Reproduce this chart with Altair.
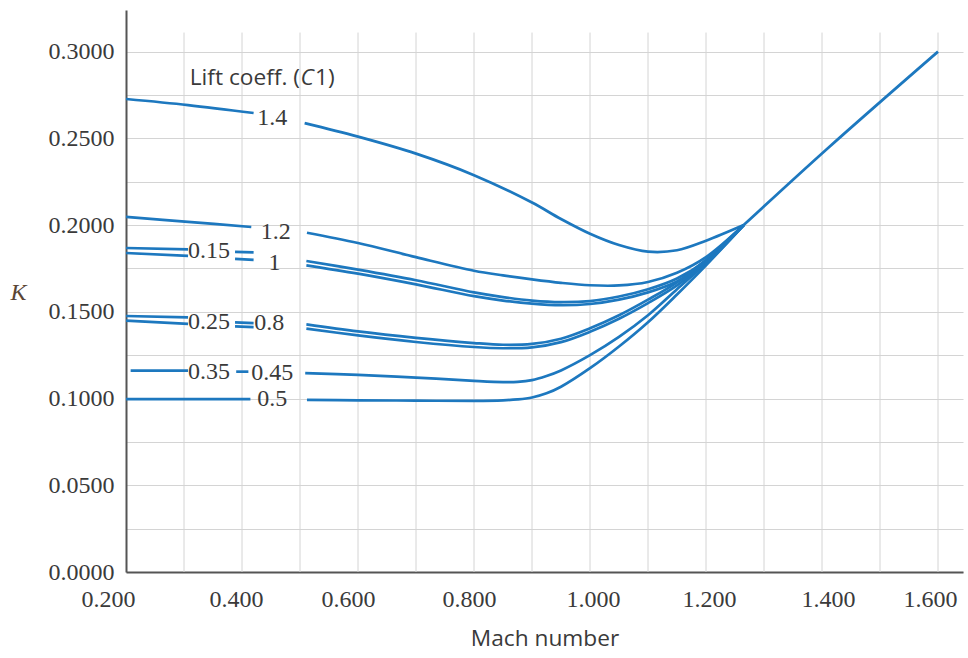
import altair as alt
import pandas as pd

BLUE = "#1d78bf"
TEXT = "#3a3a3a"

# ---- curve data (Mach number, K); "A" = left piece, "D" = short dash, "B" = right piece
C14_XA = [0.200, 0.307, 0.420]
C14_YA = [0.2727, 0.2692, 0.2646]
C14_XB = [0.508, 0.60, 0.70, 0.80, 0.90, 0.95, 1.00, 1.05, 1.10, 1.15, 1.20, 1.265]
C14_YB = [0.2588, 0.2510, 0.2412, 0.2288, 0.2130, 0.2035, 0.1950, 0.1885, 0.1847, 0.1855, 0.1910, 0.2000]

C12_XA = [0.200, 0.307, 0.416]
C12_YA = [0.2047, 0.2019, 0.1989]
C12_XB = [0.512, 0.60, 0.70, 0.80, 0.85, 0.90, 0.95, 1.00, 1.05, 1.10, 1.15, 1.20, 1.265]
C12_YB = [0.1956, 0.1897, 0.1815, 0.1737, 0.1710, 0.1687, 0.1667, 0.1653, 0.1652, 0.1672, 0.1725, 0.1815, 0.2000]

C10_XA = [0.200, 0.307]
C10_YA = [0.1868, 0.1860]
C10_XD = [0.388, 0.420]
C10_YD = [0.1845, 0.1843]
C10_XB = [0.511, 0.60, 0.70, 0.80, 0.85, 0.90, 0.95, 1.00, 1.05, 1.10, 1.15, 1.20, 1.265]
C10_YB = [0.1793, 0.1743, 0.1682, 0.1612, 0.1585, 0.1565, 0.1556, 0.1562, 0.1588, 0.1630, 0.1692, 0.1795, 0.2000]

C015_XA = [0.200, 0.307]
C015_YA = [0.1839, 0.1822]
C015_XD = [0.388, 0.420]
C015_YD = [0.1805, 0.1800]
C015_XB = [0.511, 0.60, 0.70, 0.80, 0.85, 0.90, 0.95, 1.00, 1.05, 1.10, 1.15, 1.20, 1.265]
C015_YB = [0.1768, 0.1720, 0.1658, 0.1590, 0.1565, 0.1547, 0.1538, 0.1545, 0.1570, 0.1612, 0.1675, 0.1782, 0.2000]

C08_XA = [0.200, 0.307]
C08_YA = [0.1476, 0.1468]
C08_XD = [0.388, 0.420]
C08_YD = [0.1439, 0.1435]
C08_XB = [0.511, 0.60, 0.70, 0.80, 0.85, 0.90, 0.95, 1.00, 1.05, 1.10, 1.15, 1.20, 1.265]
C08_YB = [0.1428, 0.1387, 0.1350, 0.1320, 0.1310, 0.1315, 0.1345, 0.1405, 0.1480, 0.1570, 0.1670, 0.1800, 0.2000]

C025_XA = [0.200, 0.307]
C025_YA = [0.1449, 0.1430]
C025_XD = [0.388, 0.420]
C025_YD = [0.1416, 0.1412]
C025_XB = [0.511, 0.60, 0.70, 0.80, 0.85, 0.90, 0.95, 1.00, 1.05, 1.10, 1.15, 1.20, 1.265]
C025_YB = [0.1403, 0.1364, 0.1326, 0.1297, 0.1290, 0.1295, 0.1325, 0.1385, 0.1460, 0.1550, 0.1652, 0.1785, 0.2000]

C045_XA = [0.208, 0.307]
C045_YA = [0.1161, 0.1161]
C045_XD = [0.390, 0.411]
C045_YD = [0.1155, 0.1155]
C045_XB = [0.509, 0.60, 0.70, 0.80, 0.85, 0.875, 0.90, 0.925, 0.95, 1.00, 1.05, 1.10, 1.15, 1.20, 1.265]
C045_YB = [0.1147, 0.1137, 0.1121, 0.1102, 0.1095, 0.1096, 0.1106, 0.1130, 0.1162, 0.1250, 0.1355, 0.1480, 0.1630, 0.1780, 0.2000]

C05_XA = [0.200, 0.4145]
C05_YA = [0.0997, 0.0997]
C05_XB = [0.512, 0.60, 0.70, 0.80, 0.85, 0.875, 0.90, 0.925, 0.95, 1.00, 1.05, 1.10, 1.15, 1.20, 1.265]
C05_YB = [0.0992, 0.0990, 0.0988, 0.0987, 0.0990, 0.0995, 0.1006, 0.1030, 0.1068, 0.1175, 0.1300, 0.1440, 0.1600, 0.1768, 0.2000]

# common straight part that every curve joins
TAIL_X = [1.265, 1.410, 1.600]
TAIL_Y = [0.2000, 0.2443, 0.3000]

# curve labels
LABELS = ["1.4", "1.2", "1", "0.8", "0.45", "0.5", "0.15", "0.25", "0.35"]
LABEL_X = [0.452, 0.458, 0.456, 0.447, 0.452, 0.452, 0.343, 0.343, 0.343]
LABEL_Y = [0.2617, 0.1960, 0.1780, 0.1435, 0.1147, 0.0997, 0.1850, 0.1441, 0.1153]

# "Lift coeff. (C1)" heading, written in three pieces (the C is italic)
HEAD_TEXT = ["Lift coeff. (", "C", "1)"]
HEAD_X = [0.437, 0.437, 0.437]
HEAD_Y = [0.2848, 0.2848, 0.2848]

# vertical grid positions (they stop a little below the top of the frame)
GRID_X = [round(0.3 + 0.1 * i, 1) for i in range(14)]
GRID_BOTTOM = 0.0
GRID_TOP = 0.311

rows = []


def add(curve, seg, xs, ys):
    for xv, yv in zip(xs, ys):
        rows.append({"curve": curve, "seg": f"{curve}-{seg}", "x": xv, "y": yv})


add("1.4", "A", C14_XA, C14_YA)
add("1.4", "B", C14_XB, C14_YB)
add("1.2", "A", C12_XA, C12_YA)
add("1.2", "B", C12_XB, C12_YB)
add("1", "A", C10_XA, C10_YA)
add("1", "D", C10_XD, C10_YD)
add("1", "B", C10_XB, C10_YB)
add("0.15", "A", C015_XA, C015_YA)
add("0.15", "D", C015_XD, C015_YD)
add("0.15", "B", C015_XB, C015_YB)
add("0.8", "A", C08_XA, C08_YA)
add("0.8", "D", C08_XD, C08_YD)
add("0.8", "B", C08_XB, C08_YB)
add("0.25", "A", C025_XA, C025_YA)
add("0.25", "D", C025_XD, C025_YD)
add("0.25", "B", C025_XB, C025_YB)
add("0.45", "A", C045_XA, C045_YA)
add("0.45", "D", C045_XD, C045_YD)
add("0.45", "B", C045_XB, C045_YB)
add("0.5", "A", C05_XA, C05_YA)
add("0.5", "B", C05_XB, C05_YB)
add("all", "tail", TAIL_X, TAIL_Y)

lines_df = pd.DataFrame(rows)
labels_df = pd.DataFrame({"label": LABELS, "x": LABEL_X, "y": LABEL_Y})
head_df = pd.DataFrame({"label": HEAD_TEXT, "x": HEAD_X, "y": HEAD_Y})
grid_df = pd.DataFrame({
    "x": GRID_X,
    "y": [GRID_BOTTOM] * len(GRID_X),
    "top": [GRID_TOP] * len(GRID_X),
})

X_TICKS = [round(0.2 + 0.1 * i, 1) for i in range(15)]
Y_TICKS = [round(0.025 * i, 3) for i in range(13)]
X_LABEL_SHIFT = {0.2: -18, 0.4: -6, 0.6: -10, 0.8: -5, 1.0: 3, 1.2: 3, 1.4: 6, 1.6: -8}
GRID_COLOR = "#d4d4d4"

x_scale = alt.Scale(domain=[0.2, 1.6431], nice=False, zero=False)
y_scale = alt.Scale(domain=[0.0, 0.324], nice=False, zero=False)

x_axis = alt.Axis(
    values=X_TICKS,
    labelExpr="round(datum.value * 10) % 2 == 0 ? format(datum.value, '.3f') : ''",
    grid=False,
    ticks=False, tickSize=0,
    domainColor="#555555", domainWidth=2,
    labelFont="Liberation Serif", labelFontSize=24, labelColor=TEXT,
    labelPadding=15, labelFlush=False, labelOverlap=False,
    labelOffset={"condition": [
        {"test": f"abs(datum.value - {k}) < 0.01", "value": v} for k, v in X_LABEL_SHIFT.items()
    ], "value": 0},
    title="Mach number", titleFont="Open Sans", titleFontSize=22.7,
    titleFontWeight="normal", titleColor=TEXT,
    titleBaseline="middle", titleY=66,
)
y_axis = alt.Axis(
    values=Y_TICKS,
    labelExpr="round(datum.value * 1000) % 50 == 0 ? format(datum.value, '.4f') : ''",
    grid=True, gridColor=GRID_COLOR, gridWidth=1,
    ticks=False, tickSize=0,
    domainColor="#555555", domainWidth=2,
    labelFont="Liberation Serif", labelFontSize=24, labelColor=TEXT,
    labelPadding=12, labelFlush=False, labelOverlap=False,
    title="K", titleFont="Liberation Serif", titleFontStyle="italic",
    titleFontSize=24, titleFontWeight="normal", titleColor="#5a4535",
    titleAngle=0, titleAlign="center", titleBaseline="middle",
    titleX=-108, titleY=282,
)

X = alt.X("x:Q", scale=x_scale, axis=x_axis)
Y = alt.Y("y:Q", scale=y_scale, axis=y_axis)

vgrid = alt.Chart(grid_df).mark_rule(color=GRID_COLOR, strokeWidth=1).encode(
    x=X, y=Y, y2="top:Q"
)

lines = alt.Chart(lines_df).mark_line(
    interpolate="catmull-rom", strokeWidth=2.7, color=BLUE, strokeCap="butt"
).encode(x=X, y=Y, detail="seg:N")

labels = alt.Chart(labels_df).mark_text(
    font="Liberation Serif", fontSize=24, color=TEXT, align="center", baseline="middle"
).encode(x=X, y=Y, text="label:N")

head1 = alt.Chart(head_df).transform_filter("datum.label == 'Lift coeff. ('").mark_text(
    font="Open Sans", fontSize=22.7, color=TEXT, align="right", baseline="middle", dx=36.5
).encode(x=X, y=Y, text="label:N")
head2 = alt.Chart(head_df).transform_filter("datum.label == 'C'").mark_text(
    font="Open Sans", fontSize=22.7, fontStyle="italic", color=TEXT,
    align="left", baseline="middle", dx=37
).encode(x=X, y=Y, text="label:N")
head3 = alt.Chart(head_df).transform_filter("datum.label == '1)'").mark_text(
    font="Open Sans", fontSize=22.7, color=TEXT, align="left", baseline="middle", dx=51.5
).encode(x=X, y=Y, text="label:N")

chart = alt.layer(vgrid, lines, labels, head1, head2, head3).properties(
    width=837, height=562,
    autosize=alt.AutoSizeParams(type="none"),
    padding={"left": 126, "right": 5, "top": 10, "bottom": 86},
    background="white",
).configure_view(stroke=None)

chart.save("out.html", embed_options={"renderer": "svg", "actions": False})
